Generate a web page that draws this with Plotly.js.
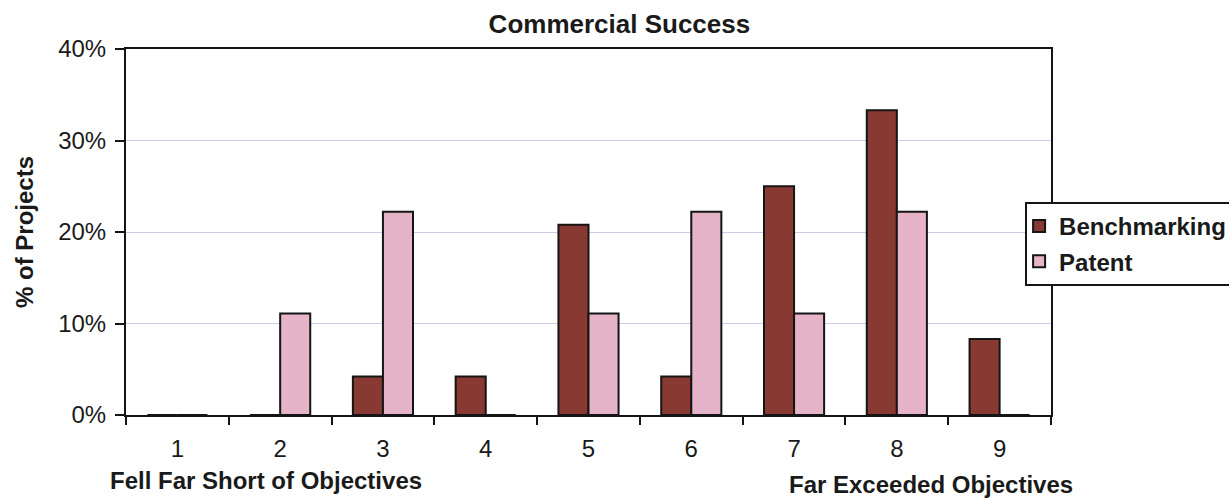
<!DOCTYPE html>
<html>
<head>
<meta charset="utf-8">
<script src="https://cdn.plot.ly/plotly-3.0.1.min.js"></script>
<style>
  html, body { margin: 0; padding: 0; background: #ffffff; }
  #chart { width: 1229px; height: 498px; }
</style>
</head>
<body>
<div id="chart"></div>
<script>
// Rating scale (1 = fell far short, 9 = far exceeded objectives)
const categories = ['1', '2', '3', '4', '5', '6', '7', '8', '9'];

// Share of projects (%) at each rating
const benchmarking = [0, 0, 4.2, 4.2, 20.8, 4.2, 25.0, 33.3, 8.3];
const patent = [0, 11.1, 22.2, 0, 11.1, 22.2, 11.1, 22.2, 0];

const yTicks = [0, 10, 20, 30, 40];
const yTickLabels = ['0%', '10%', '20%', '30%', '40%'];

const FONT = '"Liberation Sans", Arial, Helvetica, sans-serif';

const traces = [
  {
    type: 'bar',
    name: 'Benchmarking',
    legendgroup: 'bench',
    x: categories,
    y: benchmarking,
    marker: { color: '#883a32', line: { color: '#151515', width: 2 } }
  },
  {
    type: 'bar',
    name: 'Patent',
    legendgroup: 'patent',
    x: categories,
    y: patent,
    marker: { color: '#e5b4c9', line: { color: '#151515', width: 2 } }
  }
];

const layout = {
  width: 1229,
  height: 498,
  paper_bgcolor: '#ffffff',
  plot_bgcolor: '#ffffff',
  font: { family: FONT, color: '#1a1a1a', size: 24 },
  margin: { l: 126, r: 178, t: 49, b: 83, autoexpand: false },
  barmode: 'group',
  bargap: 0.415,
  bargroupgap: 0,
  title: {
    text: '<b>Commercial Success</b>',
    font: { family: FONT, size: 26, color: '#1a1a1a' },
    xref: 'container', x: 0.504, xanchor: 'center',
    yref: 'container', y: 0.952, yanchor: 'middle'
  },
  xaxis: {
    type: 'category',
    tickson: 'boundaries',
    ticks: 'outside',
    ticklen: 8,
    tickwidth: 2,
    tickcolor: '#151515',
    ticklabelstandoff: 11,
    showline: true,
    linecolor: '#151515',
    linewidth: 2,
    mirror: true,
    showgrid: false,
    tickfont: { family: FONT, size: 24, color: '#1a1a1a' }
  },
  yaxis: {
    range: [0, 40],
    tickvals: yTicks,
    ticktext: yTickLabels,
    ticks: 'outside',
    ticklen: 9,
    tickwidth: 2,
    tickcolor: '#151515',
    ticklabelstandoff: 4,
    showline: true,
    linecolor: '#151515',
    linewidth: 2,
    mirror: true,
    zeroline: false,
    showgrid: true,
    gridcolor: '#cccce6',
    gridwidth: 1,
    tickfont: { family: FONT, size: 24, color: '#1a1a1a' },
    title: {
      text: '<b>% of Projects</b>',
      font: { family: FONT, size: 24, color: '#1a1a1a' },
      standoff: 18
    }
  },
  legend: {
    x: 0.972, xanchor: 'left',
    y: 0.582, yanchor: 'top',
    bgcolor: '#ffffff',
    bordercolor: '#151515',
    borderwidth: 2,
    indentation: -8,
    tracegroupgap: 1,
    font: { family: FONT, size: 24, color: '#1a1a1a', weight: 'bold' },
    itemsizing: 'constant'
  },
  annotations: [
    {
      text: '<b>Fell Far Short of Objectives</b>',
      xref: 'paper', yref: 'paper',
      x: -0.0195, xanchor: 'left',
      y: -0.18, yanchor: 'middle',
      showarrow: false,
      font: { family: FONT, size: 24, color: '#1a1a1a' }
    },
    {
      text: '<b>Far Exceeded Objectives</b>',
      xref: 'paper', yref: 'paper',
      x: 0.7146, xanchor: 'left',
      y: -0.19, yanchor: 'middle',
      showarrow: false,
      font: { family: FONT, size: 24, color: '#1a1a1a' }
    }
  ]
};

Plotly.newPlot('chart', traces, layout, { displayModeBar: false, staticPlot: true });
</script>
</body>
</html>
